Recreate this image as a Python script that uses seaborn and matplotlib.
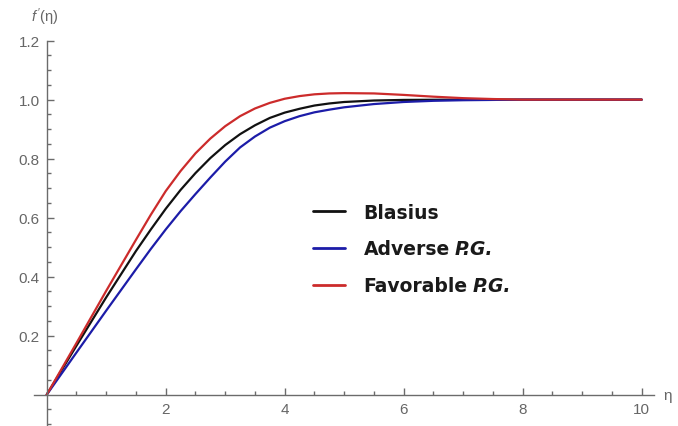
import numpy as np
import pandas as pd
import seaborn as sns
import matplotlib.pyplot as plt
from matplotlib.lines import Line2D

# values
eta_blasius = [0, 0.5, 1, 1.5, 1.75, 2, 2.25, 2.5, 2.75, 3, 3.25, 3.5, 3.75, 4, 4.25, 4.5,
               4.75, 5, 5.5, 6, 7, 8, 10]
fp_blasius = [0, 0.166, 0.330, 0.487, 0.560, 0.630, 0.694, 0.751, 0.802, 0.846, 0.883, 0.913,
              0.938, 0.956, 0.969, 0.980, 0.987, 0.992, 0.997, 0.999, 1.0, 1.0, 1.0]

eta_adverse = [0, 0.5, 1, 1.5, 1.75, 2, 2.25, 2.5, 2.75, 3, 3.25, 3.5, 3.75, 4, 4.25, 4.5,
               4.75, 5, 5.5, 6, 6.5, 7, 8, 10]
fp_adverse = [0, 0.143, 0.285, 0.425, 0.494, 0.560, 0.622, 0.680, 0.736, 0.790, 0.838, 0.875,
              0.905, 0.927, 0.944, 0.957, 0.966, 0.974, 0.985, 0.992, 0.996, 0.998, 1.0, 1.0]

eta_favorable = [0, 0.5, 1, 1.5, 1.75, 2, 2.25, 2.5, 2.75, 3, 3.25, 3.5, 3.75, 4, 4.25, 4.5,
                 4.75, 5, 5.5, 6, 6.5, 7, 7.5, 8, 10]
fp_favorable = [0, 0.175, 0.352, 0.525, 0.610, 0.690, 0.758, 0.818, 0.868, 0.910, 0.944, 0.970,
                0.989, 1.003, 1.012, 1.018, 1.021, 1.022, 1.021, 1.016, 1.010, 1.005, 1.002,
                1.0, 1.0]

cases = ['Blasius', 'Adverse', 'Favorable']
colors = ['#111111', '#1c1ca8', '#cc2b2b']
legend_labels = ['Blasius', 'Adverse', 'Favorable']
legend_suffix = ['', 'P.G.', 'P.G.']

x_major = [2, 4, 6, 8, 10]
y_major = [0.2, 0.4, 0.6, 0.8, 1.0, 1.2]

df = pd.concat([
    pd.DataFrame({'eta': eta_blasius, 'fp': fp_blasius, 'case': 'Blasius'}),
    pd.DataFrame({'eta': eta_adverse, 'fp': fp_adverse, 'case': 'Adverse'}),
    pd.DataFrame({'eta': eta_favorable, 'fp': fp_favorable, 'case': 'Favorable'}),
], ignore_index=True)

sns.set_style('white')
plt.rcParams['font.family'] = ['Liberation Sans', 'DejaVu Sans']
plt.rcParams['mathtext.fontset'] = 'custom'
plt.rcParams['mathtext.rm'] = 'Liberation Sans'
plt.rcParams['mathtext.it'] = 'Liberation Sans:italic'

fig = plt.figure(figsize=(6.78, 4.27), dpi=100)
ax = fig.add_axes([0, 0, 1, 1])

sns.lineplot(data=df, x='eta', y='fp', hue='case', hue_order=cases,
             palette=colors, linewidth=1.6, legend=False, ax=ax)

ax.set_xlim(-0.785, 10.61)
ax.set_ylim(-0.106, 1.341)
ax.set_xlabel('')
ax.set_ylabel('')

axis_col = '#6b6b6b'
for s in ['top', 'right']:
    ax.spines[s].set_visible(False)
ax.spines['left'].set_position(('data', 0))
ax.spines['bottom'].set_position(('data', 0))
ax.spines['left'].set_bounds(-0.106, 1.2)
ax.spines['bottom'].set_bounds(-0.21, 10.2)
for s in ['left', 'bottom']:
    ax.spines[s].set_color(axis_col)
    ax.spines[s].set_linewidth(1.0)

ax.set_xticks(x_major)
ax.set_xticks([v for v in np.arange(0.5, 10.01, 0.5) if v not in x_major], minor=True)
ax.set_yticks(y_major)
ax.set_yticks([round(v, 2) for v in np.arange(-0.1, 1.2, 0.05)
               if abs(v) > 1e-6 and min(abs(v - m) for m in y_major) > 1e-6], minor=True)
ax.set_xticklabels([str(v) for v in x_major])
ax.set_yticklabels([f'{v:.1f}' for v in y_major])
ax.tick_params(which='both', bottom=True, left=True, direction='in', colors=axis_col,
               labelcolor='#666666', labelsize=11, width=1.0)
ax.tick_params(which='major', length=5, pad=5)
ax.tick_params(which='minor', length=3)

ax.text(10.36, 0, 'η', color='#666666', fontsize=11, ha='left', va='center')
ax.text(-0.03, 1.284, r"$f\,'$(η)", color='#666666', fontsize=10.5, ha='center', va='center')

leg_font = {'family': 'DejaVu Sans', 'weight': 'bold', 'size': 13.5}
handles = [Line2D([], [], color=c, linewidth=2.0) for c in colors]
leg = ax.legend(handles, legend_labels, loc='center left',
                bbox_to_anchor=(313 / 678, 1 - 250 / 427), bbox_transform=fig.transFigure,
                frameon=False, borderpad=0, borderaxespad=0, handlelength=1.7,
                handletextpad=1.0, labelspacing=0.95, prop=leg_font)
for t in leg.get_texts():
    t.set_color('#1a1a1a')

# italic "P.G." right after the legend words
fig.canvas.draw()
for t, suffix in zip(leg.get_texts(), legend_suffix):
    if not suffix:
        continue
    bb = t.get_window_extent()
    fig.text((bb.x1 + 5) / 678, (bb.y0 + bb.y1) / 2 / 427, suffix,
             style='italic', color='#1a1a1a', ha='left', va='center', **leg_font)

fig.savefig('out.png', dpi=100)
